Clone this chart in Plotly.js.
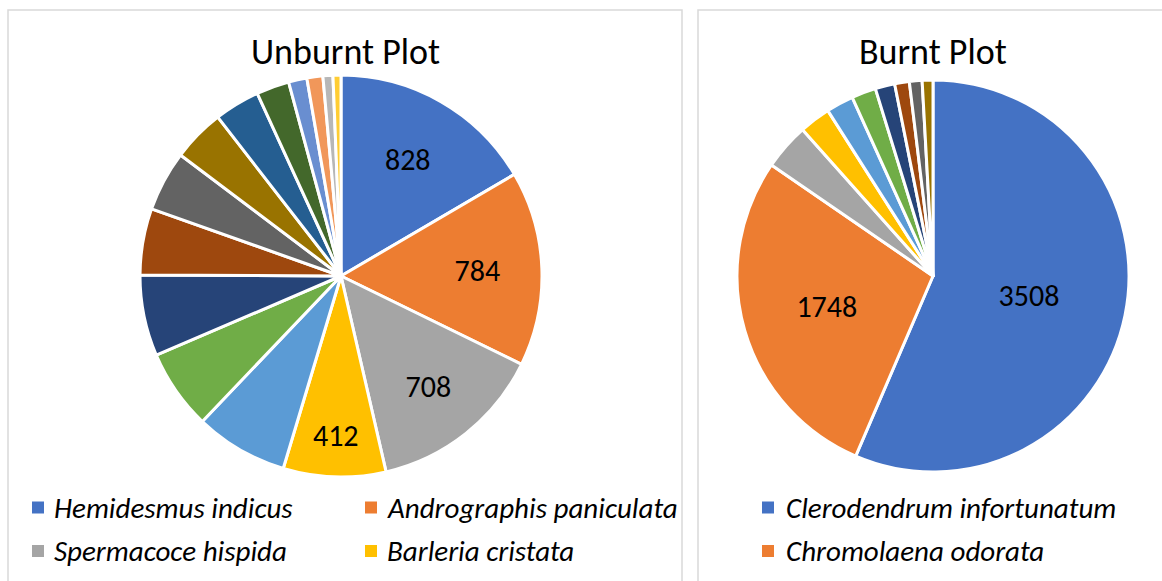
<!DOCTYPE html>
<html><head><meta charset="utf-8">
<script src="https://cdn.plot.ly/plotly-3.0.1.min.js"></script>
<style>html,body{margin:0;padding:0;background:#fff;}#chart{width:1162px;height:581px;}</style>
</head><body><div id="chart"></div>
<script>
// Unburnt plot
const unburntLabels = ["Hemidesmus indicus","Andrographis paniculata","Spermacoce hispida","Barleria cristata",
  "Species 5","Species 6","Species 7","Species 8","Species 9","Species 10","Species 11","Species 12",
  "Species 13","Species 14","Species 15","Species 16"];
const unburntValues = [828,784,708,412,374,322,326,267,243,211,183,132,74,64,40,32];
const unburntShown = 4;
// Burnt plot
const burntLabels = ["Clerodendrum infortunatum","Chromolaena odorata","Species 3","Species 4","Species 5",
  "Species 6","Species 7","Species 8","Species 9","Species 10"];
const burntValues = [3508,1748,238,160,140,125,100,75,65,55];
const burntShown = 2;

const palette = ["#4472C4","#ED7D31","#A5A5A5","#FFC000","#5B9BD5","#70AD47","#264478","#9E480E",
  "#636363","#997300","#255E91","#43682B","#698ED0","#F1975A","#B7B7B7","#FFCD33"];

const FONT = "Carlito, Calibri, Lato, 'Open Sans', sans-serif";

function pieTrace(labels, values, shown, domain){
  return {
    type:"pie", labels:labels, values:values, sort:false, direction:"clockwise", rotation:0,
    text: values.map((v,i)=> i<shown ? String(v) : ""),
    textinfo:"text", textposition:"inside", insidetextorientation:"horizontal",
    insidetextfont:{family:FONT, size:30, color:"#000"},
    marker:{colors:palette.slice(0, values.length), line:{color:"#ffffff", width:3}},
    domain:domain, showlegend:false, hoverinfo:"label+value"
  };
}

const W=1162, H=581;
const px = x => x/W, py = y => 1 - y/H;

const data = [
  pieTrace(unburntLabels, unburntValues, unburntShown, {x:[px(140),px(542)], y:[py(477),py(75)]}),
  pieTrace(burntLabels, burntValues, burntShown, {x:[px(737),px(1129)], y:[py(472),py(80)]})
];

const annotations = [
  {text:"Unburnt Plot", x:px(345), y:py(52), xref:"paper", yref:"paper", showarrow:false,
   xanchor:"center", yanchor:"middle", font:{family:FONT, size:36, color:"#000"}},
  {text:"Burnt Plot", x:px(933), y:py(52), xref:"paper", yref:"paper", showarrow:false,
   xanchor:"center", yanchor:"middle", font:{family:FONT, size:36, color:"#000"}}
];
const shapes = [
  {type:"rect", xref:"paper", yref:"paper", x0:px(8), x1:px(682), y0:py(600), y1:py(10),
   line:{color:"#d9d9d9", width:1.5}},
  {type:"rect", xref:"paper", yref:"paper", x0:px(698), x1:px(1170), y0:py(600), y1:py(10),
   line:{color:"#d9d9d9", width:1.5}}
];
// Legend entries (only visible ones)
const legendPos = [[32,507.5],[365,507.5],[32,551],[365,551]];
for(let i=0;i<unburntShown;i++){
  const [lx,ly]=legendPos[i];
  shapes.push({type:"rect", xref:"paper", yref:"paper", x0:px(lx), x1:px(lx+12), y0:py(ly+6), y1:py(ly-6),
    fillcolor:palette[i], line:{width:0}});
  annotations.push({text:"<i>"+unburntLabels[i]+"</i>", x:px(lx+20), y:py(ly), xref:"paper", yref:"paper",
    xanchor:"left", yanchor:"middle", showarrow:false, font:{family:FONT, size:29, color:"#000"}});
}
const legendPos2 = [[762,507.5],[762,551]];
for(let i=0;i<burntShown;i++){
  const [lx,ly]=legendPos2[i];
  shapes.push({type:"rect", xref:"paper", yref:"paper", x0:px(lx), x1:px(lx+12), y0:py(ly+6), y1:py(ly-6),
    fillcolor:palette[i], line:{width:0}});
  annotations.push({text:"<i>"+burntLabels[i]+"</i>", x:px(lx+22), y:py(ly), xref:"paper", yref:"paper",
    xanchor:"left", yanchor:"middle", showarrow:false, font:{family:FONT, size:29, color:"#000"}});
}

const layout = {
  width:W, height:H, margin:{l:0,r:0,t:0,b:0}, paper_bgcolor:"#fff", plot_bgcolor:"#fff",
  annotations:annotations, shapes:shapes, showlegend:false
};
Plotly.newPlot("chart", data, layout, {displayModeBar:false, staticPlot:true});
</script></body></html>
